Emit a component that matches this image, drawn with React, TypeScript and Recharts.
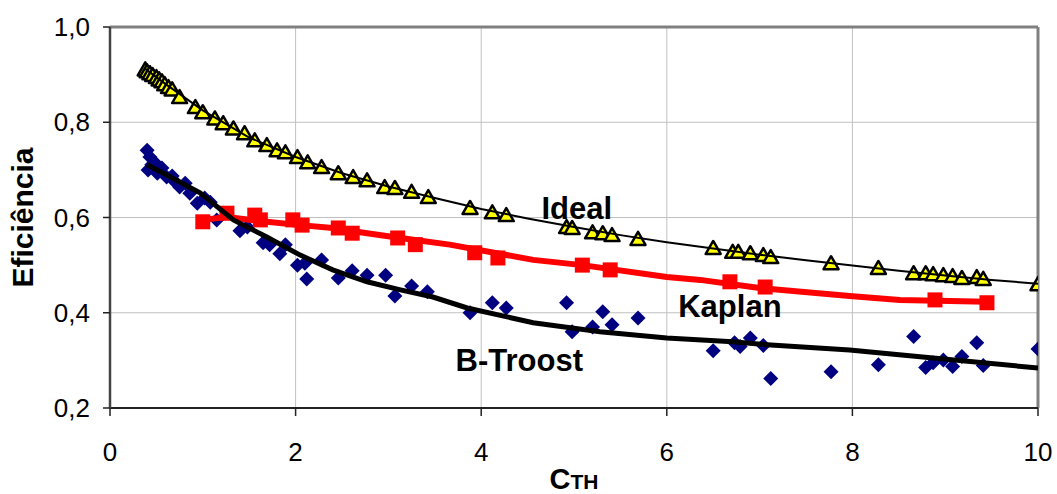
import React from "react";
import {
  ScatterChart,
  Scatter,
  XAxis,
  YAxis,
  CartesianGrid,
  ReferenceLine,
  ReferenceDot,
} from "recharts";

const FONT = '"Liberation Sans", Arial, sans-serif';

// C_TH values shared by the measured points
const ctIdeal = [
  0.38, 0.4, 0.43, 0.46, 0.5, 0.53, 0.56, 0.59, 0.63, 0.67, 0.75, 0.92, 1.0, 1.13, 1.22, 1.33, 1.45, 1.56,
  1.69, 1.8, 1.89, 2.02, 2.13, 2.28, 2.46, 2.62, 2.77, 2.96, 3.07, 3.25, 3.43, 3.88, 4.12, 4.27, 4.92, 4.98,
  5.2, 5.31, 5.41, 5.69, 6.5, 6.71, 6.77, 6.9, 7.04, 7.12, 7.77, 8.28, 8.66, 8.79, 8.87, 8.98, 9.08, 9.18,
  9.34, 9.41, 10.0,
];
const effIdeal = [
  0.911, 0.907, 0.903, 0.899, 0.895, 0.89, 0.886, 0.88, 0.874, 0.869, 0.853, 0.832, 0.821, 0.808, 0.798, 0.787,
  0.777, 0.762, 0.752, 0.741, 0.737, 0.727, 0.716, 0.706, 0.693, 0.685, 0.678, 0.664, 0.662, 0.654, 0.643, 0.62,
  0.611, 0.605, 0.58, 0.578, 0.569, 0.567, 0.563, 0.555, 0.536, 0.528, 0.528, 0.525, 0.521, 0.517, 0.504, 0.494,
  0.483, 0.483, 0.481, 0.479, 0.477, 0.473, 0.475, 0.471, 0.46,
];

const ctKaplan = [1.0, 1.26, 1.56, 1.62, 1.97, 2.07, 2.46, 2.61, 3.1, 3.29, 3.93, 4.18, 5.09, 5.39, 6.68, 7.06, 8.89, 9.45];
const effKaplan = [
  0.591, 0.609, 0.605, 0.595, 0.595, 0.584, 0.578, 0.567, 0.557, 0.543, 0.526, 0.515, 0.5, 0.49, 0.465, 0.454,
  0.427, 0.421,
];

const ctTroost = [
  0.4, 0.43, 0.45, 0.48, 0.41, 0.51, 0.56, 0.61, 0.67, 0.7, 0.75, 0.81, 0.86, 0.94, 1.02, 1.08, 1.15, 1.4, 1.48,
  1.65, 1.72, 1.83, 1.89, 2.02, 2.12, 2.1, 2.28, 2.46, 2.61, 2.77, 2.97, 3.07, 3.25, 3.42, 3.88, 4.12, 4.27, 4.92,
  4.98, 5.2, 5.31, 5.41, 5.69, 6.5, 6.73, 6.79, 6.9, 7.04, 7.12, 7.77, 8.28, 8.66, 8.79, 8.87, 8.98, 9.08, 9.18,
  9.34, 9.41, 10.0,
];
const effTroost = [
  0.741, 0.727, 0.711, 0.716, 0.7, 0.693, 0.704, 0.685, 0.687, 0.675, 0.664, 0.672, 0.651, 0.63, 0.641, 0.632,
  0.595, 0.572, 0.58, 0.547, 0.543, 0.524, 0.543, 0.5, 0.471, 0.504, 0.511, 0.473, 0.488, 0.479, 0.479, 0.435,
  0.456, 0.444, 0.4, 0.421, 0.41, 0.421, 0.36, 0.37, 0.402, 0.375, 0.389, 0.32, 0.337, 0.329, 0.347, 0.331, 0.262,
  0.276, 0.291, 0.35, 0.285, 0.295, 0.301, 0.287, 0.308, 0.337, 0.289, 0.324,
];

// trend curves
const fitIdealX = [0.38, 0.6, 1.0, 1.5, 2.0, 2.5, 3.0, 3.5, 4.0, 4.5, 5.0, 5.5, 6.0, 6.5, 7.0, 7.5, 8.0, 8.5, 9.0, 9.5, 10.0];
const fitIdealY = [
  0.912, 0.88, 0.825, 0.768, 0.727, 0.693, 0.665, 0.641, 0.618, 0.598, 0.58, 0.563, 0.548, 0.535, 0.522, 0.51,
  0.499, 0.488, 0.478, 0.469, 0.461,
];
const fitKaplanX = [1.0, 1.26, 1.69, 2.05, 2.4, 2.77, 3.13, 3.66, 4.56, 5.09, 6.0, 6.36, 7.0, 7.97, 8.51, 9.45];
const fitKaplanY = [0.595, 0.601, 0.591, 0.584, 0.578, 0.567, 0.557, 0.543, 0.511, 0.5, 0.475, 0.469, 0.452, 0.435, 0.427, 0.423];
const fitTroostX = [0.4, 0.97, 1.33, 1.69, 2.05, 2.4, 2.77, 3.13, 3.48, 3.85, 4.56, 5.28, 6.0, 6.71, 7.08, 7.97, 8.87, 10.0];
const fitTroostY = [
  0.711, 0.652, 0.595, 0.559, 0.521, 0.49, 0.465, 0.448, 0.433, 0.41, 0.379, 0.36, 0.347, 0.339, 0.333, 0.322,
  0.305, 0.284,
];

const xTicks = [0, 2, 4, 6, 8, 10];
const yTicks = [0.2, 0.4, 0.6, 0.8, 1.0];

const pts = (xs: number[], ys: number[]) => xs.map((x, i) => ({ x, y: ys[i] }));

const Triangle = (p: any) => {
  const { cx, cy } = p;
  return (
    <path
      d={`M${cx},${cy - 7} L${cx + 7.5},${cy + 6} L${cx - 7.5},${cy + 6} Z`}
      fill="#ffff00"
      stroke="#000"
      strokeWidth={2.5}
      strokeLinejoin="round"
    />
  );
};
const Square = (p: any) => <rect x={p.cx - 7.5} y={p.cy - 7.5} width={15} height={15} fill="#ff0000" />;
const Diamond = (p: any) => {
  const { cx, cy } = p;
  return <path d={`M${cx},${cy - 7.5} L${cx + 7.5},${cy} L${cx},${cy + 7.5} L${cx - 7.5},${cy} Z`} fill="#000080" />;
};
const NoDot = () => <g />;

const XTick = (p: any) => (
  <text x={p.x} y={p.y} dy="0.71em" textAnchor="middle" fontFamily={FONT} fontSize={26} fill="#000">
    {p.payload.value}
  </text>
);
const YTick = (p: any) => (
  <text x={p.x} y={p.y} dy="0.355em" textAnchor="end" fontFamily={FONT} fontSize={26} fill="#000">
    {p.payload.value.toFixed(1).replace(".", ",")}
  </text>
);

const XTitle = (props: any) => {
  const vb = props.viewBox;
  return (
    <text x={vb.x + vb.width / 2} y={489} textAnchor="middle" fontFamily={FONT} fontWeight="bold" fill="#000">
      <tspan fontSize={29}>C</tspan>
      <tspan fontSize={21}>TH</tspan>
    </text>
  );
};
const YTitle = (props: any) => {
  const vb = props.viewBox;
  const cy = vb.y + vb.height / 2;
  return (
    <text
      x={33}
      y={cy}
      transform={`rotate(-90 33 ${cy})`}
      textAnchor="middle"
      fontFamily={FONT}
      fontWeight="bold"
      fontSize={30}
      fill="#000"
    >
      Eficiência
    </text>
  );
};

const textLabel = (value: string) => ({
  value,
  position: "center" as const,
  fontSize: 31,
  fontWeight: "bold",
  fontFamily: FONT,
  fill: "#000",
});

export default function App() {
  return (
    <div style={{ position: "absolute", left: 0, top: 0, background: "#fff" }}>
      <ScatterChart width={1057} height={494} margin={{ top: 27, right: 19, left: 0, bottom: 26 }}>
        <CartesianGrid stroke="#c0c0c0" strokeWidth={1} />
        <XAxis
          type="number"
          dataKey="x"
          domain={[0, 10]}
          ticks={xTicks}
          allowDataOverflow
          height={60}
          tickSize={8}
          tickMargin={27}
          tick={XTick}
          axisLine={{ stroke: "#222", strokeWidth: 2 }}
          tickLine={{ stroke: "#222", strokeWidth: 1.5 }}
          label={XTitle}
        />
        <YAxis
          type="number"
          dataKey="y"
          domain={[0.2, 1.0]}
          ticks={yTicks}
          allowDataOverflow
          width={110}
          tickSize={7}
          tickMargin={13}
          tick={YTick}
          axisLine={{ stroke: "#444", strokeWidth: 2.5 }}
          tickLine={{ stroke: "#222", strokeWidth: 1.5 }}
          label={YTitle}
        />
        <ReferenceLine y={1.0} stroke="#808080" strokeWidth={3} />
        <ReferenceLine x={10} stroke="#808080" strokeWidth={3} />
        <Scatter data={pts(ctTroost, effTroost)} shape={Diamond} isAnimationActive={false} />
        <Scatter data={pts(ctKaplan, effKaplan)} shape={Square} isAnimationActive={false} />
        <Scatter
          data={pts(fitKaplanX, fitKaplanY)}
          shape={NoDot}
          line={{ stroke: "#ff0000", strokeWidth: 6 }}
          isAnimationActive={false}
        />
        <Scatter data={pts(ctIdeal, effIdeal)} shape={Triangle} isAnimationActive={false} />
        <Scatter
          data={pts(fitIdealX, fitIdealY)}
          shape={NoDot}
          line={{ stroke: "#000", strokeWidth: 2 }}
          isAnimationActive={false}
        />
        <Scatter
          data={pts(fitTroostX, fitTroostY)}
          shape={NoDot}
          line={{ stroke: "#000", strokeWidth: 5 }}
          isAnimationActive={false}
        />
        <ReferenceDot x={5.03} y={0.62} r={0} fill="none" stroke="none" label={textLabel("Ideal")} />
        <ReferenceDot x={6.68} y={0.414} r={0} fill="none" stroke="none" label={textLabel("Kaplan")} />
        <ReferenceDot x={4.41} y={0.3} r={0} fill="none" stroke="none" label={textLabel("B-Troost")} />
      </ScatterChart>
    </div>
  );
}
